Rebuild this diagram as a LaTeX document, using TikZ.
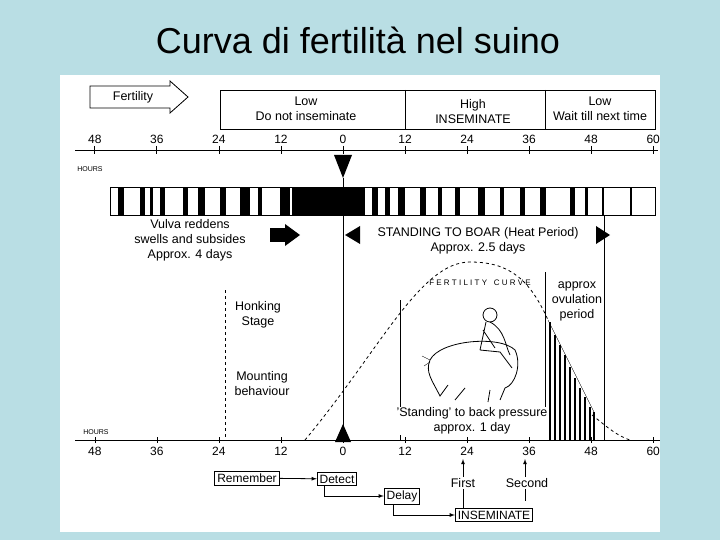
\documentclass[tikz,border=0pt]{standalone}
\usepackage{fontspec}
\setmainfont{Liberation Sans}
\begin{document}
\begin{tikzpicture}[x=1pt,y=-1pt,
  lbl/.style={font=\fontsize{12.5}{15}\selectfont,align=center,inner sep=1pt},
  bx/.style={draw,thick,font=\fontsize{12}{14}\selectfont,inner sep=2.5pt},
  tk/.style={font=\fontsize{12}{14}\selectfont,inner sep=1pt}]
\fill[fill={rgb,255:red,185;green,222;blue,228}] (0,0) rectangle (720,540);
\useasboundingbox (0,0) rectangle (720,540);
\fill[white] (60,75) rectangle (660,532);
\node[font=\fontsize{36}{40}\selectfont] (title) at (358,40) {Curva di fertilità nel suino};
% fertility arrow
\draw[thick] (90,86) -- (170,86) -- (170,81) -- (188,97) -- (170,113) -- (170,108) -- (90,108) -- cycle;
\node[lbl] (fert) at (133,97) {Fertility};
% top boxes
\draw[thick] (220,90) rectangle (655,129);
\draw[thick] (405,90) -- (405,129) (545,90) -- (545,129);
\node[lbl] (low1) at (306,109) {Low\\Do not inseminate};
\node[lbl] (high) at (473,112) {High\\INSEMINATE};
\node[lbl] (low2) at (600,109) {Low\\Wait till next time};
% top axis
\draw[thick] (75,150) -- (658,150);
\foreach \h in {-48,-36,-24,-12,0,12,24,36,48,60}{
  \pgfmathtruncatemacro\a{abs(\h)}
  \draw[thick] ({343+5.17*\h},146) -- ({343+5.17*\h},154);
  \node[tk] at ({343+5.17*\h},139) {\a};}
\node[font=\fontsize{7}{8}\selectfont] (hrs1) at (90,169) {HOURS};
\fill (334,155) -- (352,155) -- (343,178) -- cycle;
% strip
\draw[thick] (110,187) rectangle (655,215);
\foreach \a/\b in {118/124,140/145,150/153,160/165,183/188,198/205,220/226,240/250,258/262,280/290,292/300,300/365,372/378,385/390,398/405,420/426,438/442,455/460,478/485,500/504,520/525,540/546,570/575,585/588,602/604,630/632}
  \fill (\a,187) rectangle (\b,215);
% main verticals
\draw[thick] (343,178) -- (343,440);
\draw[thick] (604,215) -- (604,440);
\draw[dashed] (225,290) -- (225,440);
\draw (400,300) -- (400,440);
\draw (545,272) -- (545,430);
% arrows/labels
\node[lbl] (vulva) at (190,240) {Vulva reddens\\swells and subsides\\Approx. 4 days};
\fill (270,228) rectangle (285,242);
\fill (285,224) -- (300,235) -- (285,246) -- cycle;
\fill (345,235) -- (360,226) -- (360,244) -- cycle;
\fill (610,235) -- (596,226) -- (596,244) -- cycle;
\node[lbl] (stand) at (478,241) {STANDING TO BOAR (Heat Period)\\Approx. 2.5 days};
\node[font=\fontsize{8}{9}\selectfont] (fc) at (480,283) {F E R T I L I T Y\ \ \ C U R V E};
\node[lbl,fill=white] (ovul) at (577,301) {approx\\ovulation\\period};
\node[lbl] (honk) at (258,315) {Honking\\Stage};
\node[lbl] (mount) at (262,384) {Mounting\\behaviour};
% fertility curve
\draw[dashed,thick] (305,440) .. controls (380,350) and (420,262) .. (470,262) .. controls (510,262) and (530,280) .. (548,320);
\draw[dashed,thick] (592,415) .. controls (605,425) and (615,435) .. (630,440);
\foreach \x/\y in {550/322,555/335,560/345,565/355,570/367,575/378,580/388,585/397,590/407,594/412}
  \draw[very thick] (\x,\y) -- (\x,440);
\draw (548,320) -- (594,412);
% pig and man sketch
\draw[thick] (430,360) .. controls (440,340) and (500,335) .. (515,350) .. controls (522,365) and (515,385) .. (505,388) -- (500,400) (490,390) -- (488,402) (465,388) -- (455,400) (448,385) -- (440,396) .. controls (432,380) and (425,372) .. (430,360);
\draw (430,360) -- (422,356) (430,362) -- (424,366);
\draw[thick] (490,315) circle (7);
\draw[thick] (486,322) -- (480,350) (490,322) .. controls (505,330) and (505,345) .. (510,355) (483,330) -- (495,348) (480,350) -- (500,352) -- (512,368);
\node[lbl,fill=white] (backp) at (472,421) {'Standing' to back pressure\\approx. 1 day};
% bottom axis
\draw[thick] (75,440) -- (660,440);
\foreach \h in {-48,-36,-24,-12,0,12,24,36,48,60}{
  \pgfmathtruncatemacro\a{abs(\h)}
  \draw ({343+5.17*\h},437) -- ({343+5.17*\h},443);
  \node[tk] at ({343+5.17*\h},451) {\a};}
\node[font=\fontsize{7}{8}\selectfont] (hrs2) at (96,432) {HOURS};
\fill (335,442) -- (351,442) -- (343,424) -- cycle;
% flow
\node[bx] (rem) at (247,478) {Remember};
\node[bx] (det) at (337,479) {Detect};
\node[bx] (del) at (402,496) {Delay};
\node[bx] (ins) at (494,515) {INSEMINATE};
\node[lbl] (first) at (463,483) {First};
\node[lbl] (second) at (527,483) {Second};
\coordinate (a24) at (463,459);
\coordinate (a36) at (525,459);
\draw[-latex,thick] (rem) -- (det);
\draw[-latex,thick] (det.south west) ++(8,0) |- (del.west);
\draw[-latex,thick] (del.south west) ++(10,0) |- (ins.west);
\draw[-latex,thick] (first) -- (a24);
\draw[-latex,thick] (second.north) ++(-2,0) -- (a36);
\draw (first) -- (first|-ins.north);
\draw[thick] (second.south) ++(-2,0) -- ++(0,12);
\end{tikzpicture}
\end{document}
